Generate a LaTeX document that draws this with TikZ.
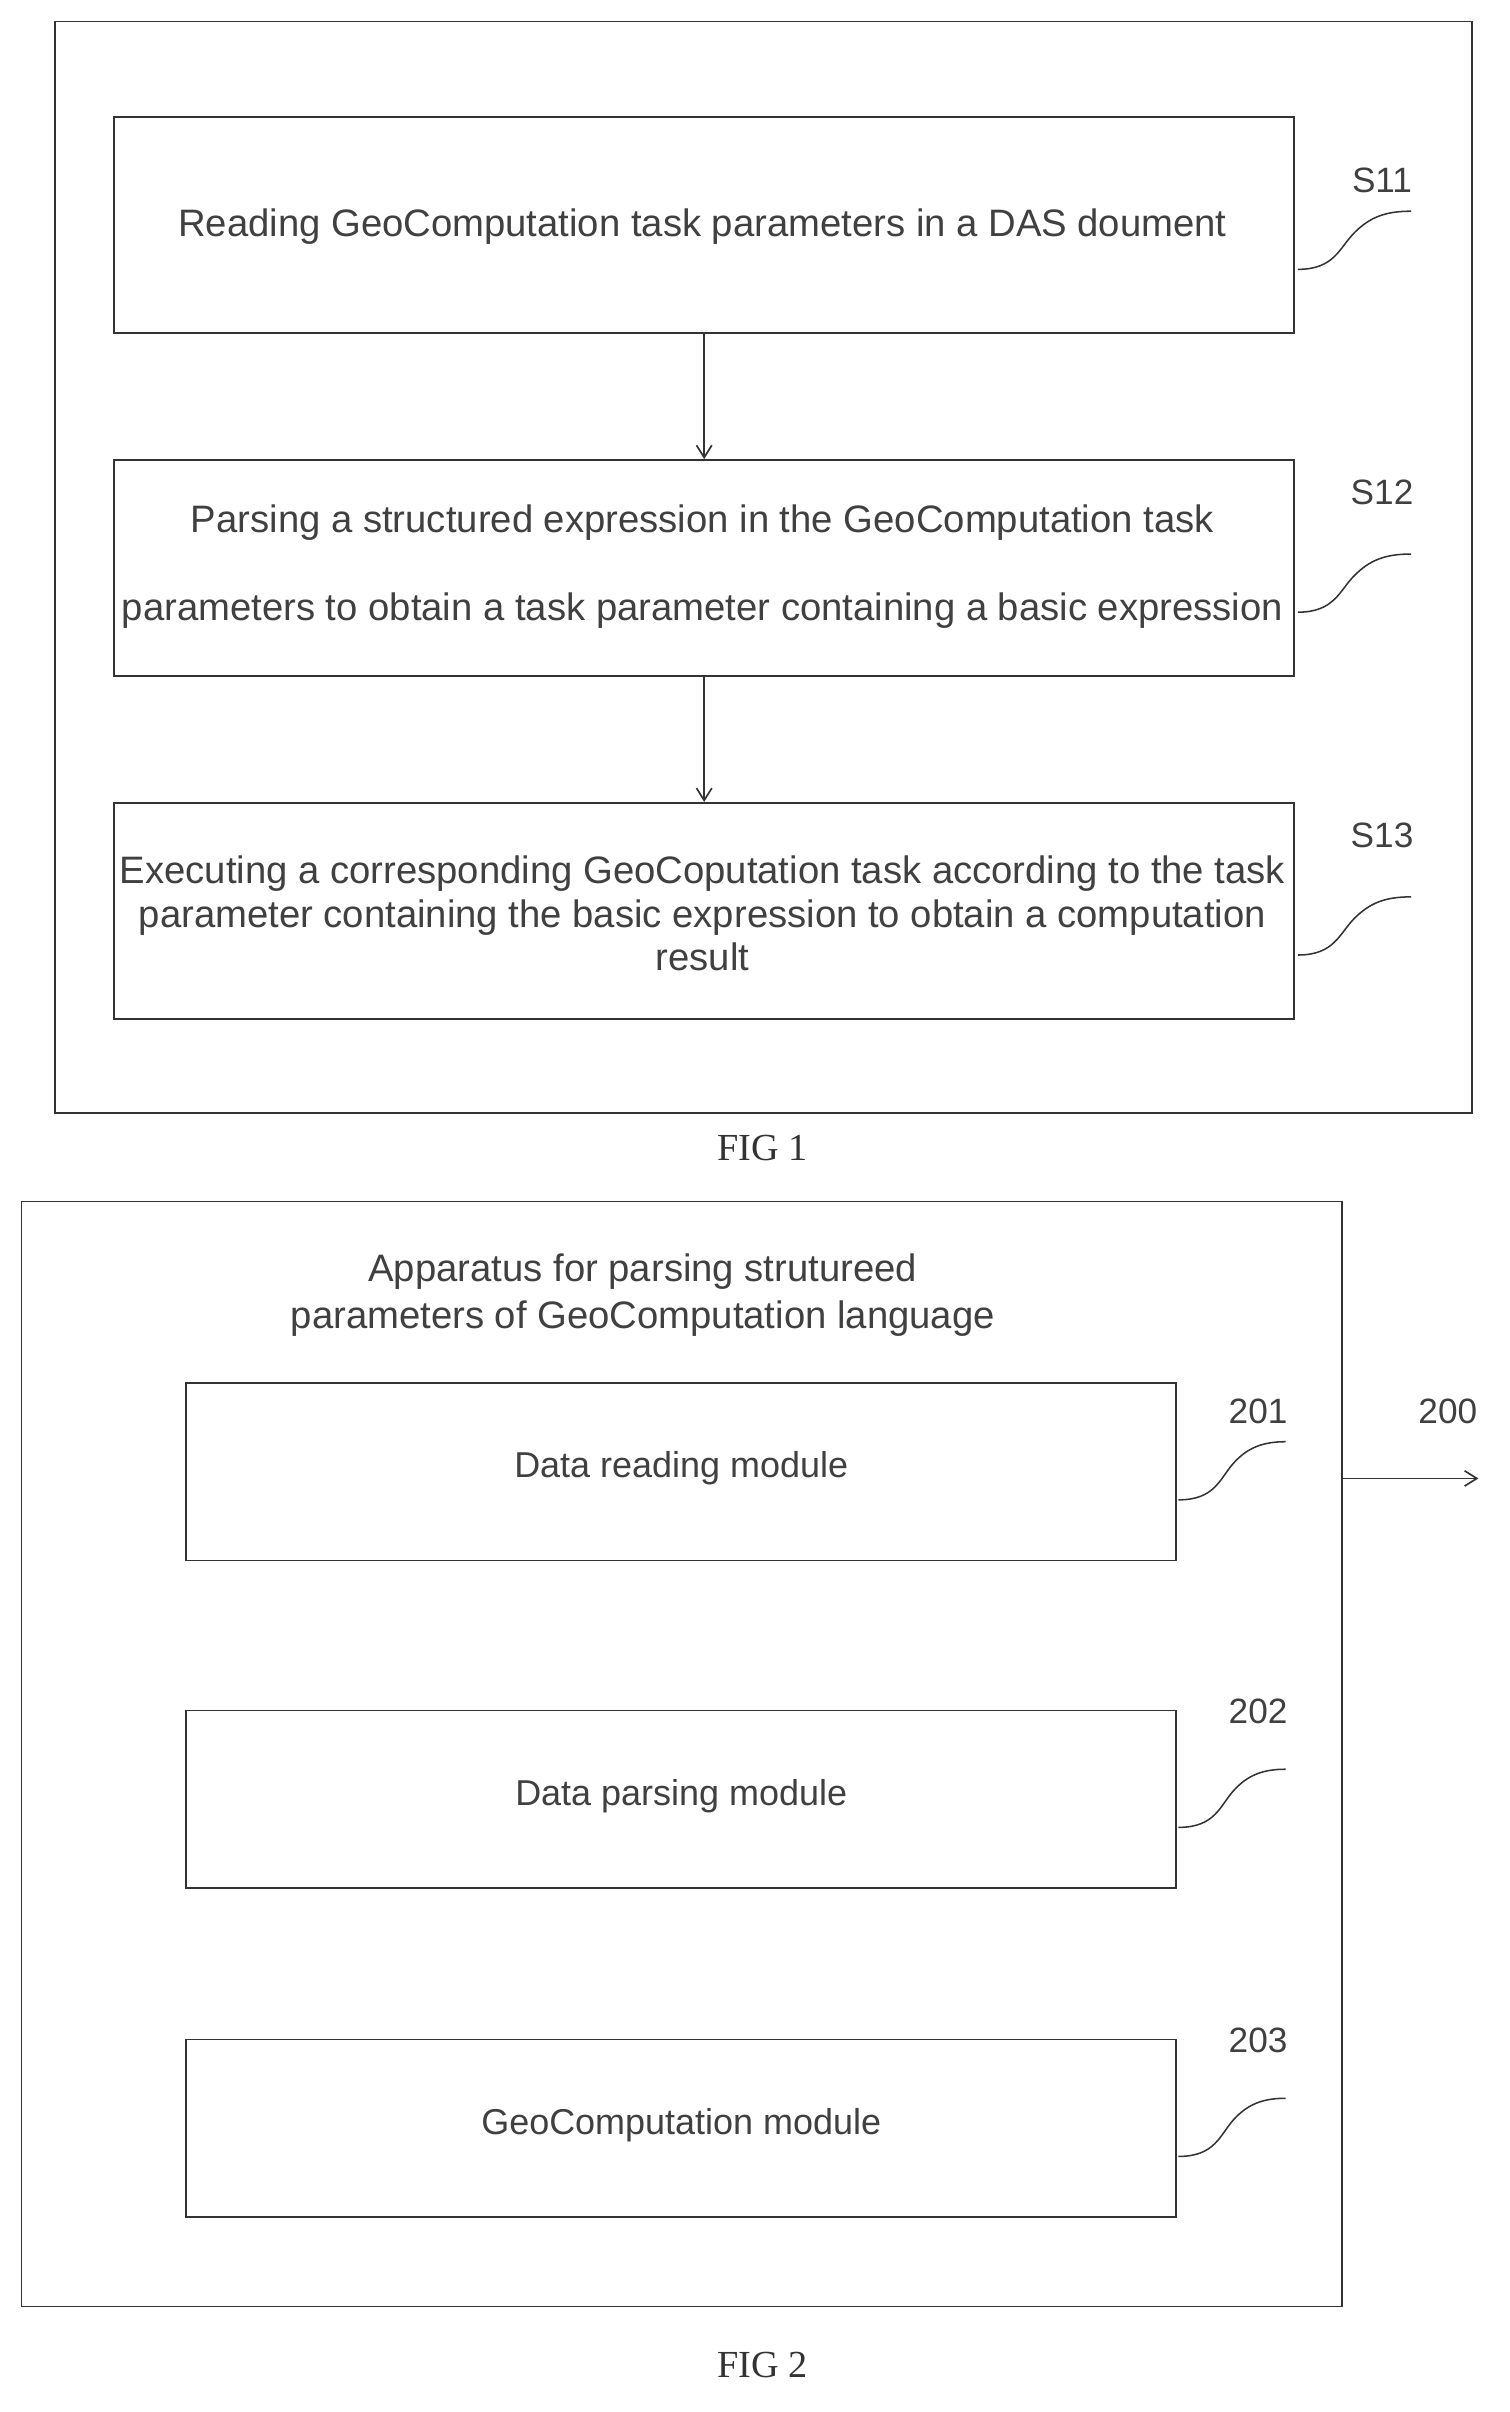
\documentclass[tikz,border=0pt]{standalone}
\usepackage{fontspec}
\setmainfont{Liberation Sans}
\newfontfamily\figfont{Liberation Serif}
\usetikzlibrary{arrows.meta}
\begin{document}
\begin{tikzpicture}[x=1pt,y=-1pt,
  box/.style={draw=black!80,line width=1.2pt},
  txt/.style={font=\fontsize{25}{28.5}\selectfont,text=black!75,align=center},
  mod/.style={font=\fontsize{23.5}{28}\selectfont,text=black!75},
  lab/.style={font=\fontsize{23}{26}\selectfont,text=black!75},
  fig/.style={font=\figfont\fontsize{25}{28}\selectfont,text=black!80},
  arr/.style={draw=black!80,line width=1.1pt,-{Straight Barb[length=8pt,width=10pt]}},
  sq/.style={draw=black!80,line width=1pt}]
\useasboundingbox (0,0) rectangle (986,1576);
% FIG 1
\draw[box] (36,14) rectangle (962,727);
\node[box,minimum width=771,minimum height=141,anchor=north west,inner sep=0] (s11) at (74,76) {};
\node[box,minimum width=771,minimum height=141,anchor=north west,inner sep=0] (s12) at (74,300) {};
\node[box,minimum width=771,minimum height=141,anchor=north west,inner sep=0] (s13) at (74,524) {};
\node[txt] (t11) at (459,148) {Reading GeoComputation task parameters in a DAS doument};
\node[txt] (t12) at (459,370) {Parsing a structured expression in the GeoComputation task\\[29pt]parameters to obtain a task parameter containing a basic expression};
\node[txt] (t13) at (459,597) {Executing a corresponding GeoCoputation task according to the task\\parameter containing the basic expression to obtain a computation\\result};
\draw[arr] (s11.south) -- (s12.north);
\draw[arr] (s12.south) -- (s13.north);
\node[lab] (l11) at (903,118) {S11};
\node[lab] (l12) at (903,322) {S12};
\node[lab] (l13) at (903,546) {S13};
\foreach \y in {0,224,448}{
  \draw[sq] (848,176+\y) .. controls (872,176+\y) and (875,162+\y) .. (885,152+\y) .. controls (895,142+\y) and (905,138+\y) .. (922,138+\y);
}
\node[fig] (f1) at (498,750) {FIG 1};
% FIG 2
\draw[box] (14,785) rectangle (877,1507);
\node[txt] (title) at (420,846) {Apparatus for parsing strutureed\\[2pt]parameters of GeoComputation language};
\node[box,minimum width=647,minimum height=116,anchor=north west,inner sep=0] (m1) at (121,903) {};
\node[box,minimum width=647,minimum height=116,anchor=north west,inner sep=0] (m2) at (121,1117) {};
\node[box,minimum width=647,minimum height=116,anchor=north west,inner sep=0] (m3) at (121,1332) {};
\node[mod] at ([yshift=2pt]m1.center) {Data reading module};
\node[mod] at ([yshift=2pt]m2.center) {Data parsing module};
\node[mod] at ([yshift=2pt]m3.center) {GeoComputation module};
\node[lab] (l201) at (822,922) {201};
\node[lab] (l202) at (822,1118) {202};
\node[lab] (l203) at (822,1333) {203};
\foreach \y in {0,214,429}{
  \draw[sq] (770,980+\y) .. controls (794,980+\y) and (797,966+\y) .. (806,956+\y) .. controls (815,946+\y) and (825,942+\y) .. (840,942+\y);
}
\coordinate (a0) at (877,966);
\coordinate (a1) at (966,966);
\draw[arr] (a0) -- (a1);
\node[lab] (l200) at (946,922) {200};
\node[fig] (f2) at (498,1545) {FIG 2};
\end{tikzpicture}
\end{document}
